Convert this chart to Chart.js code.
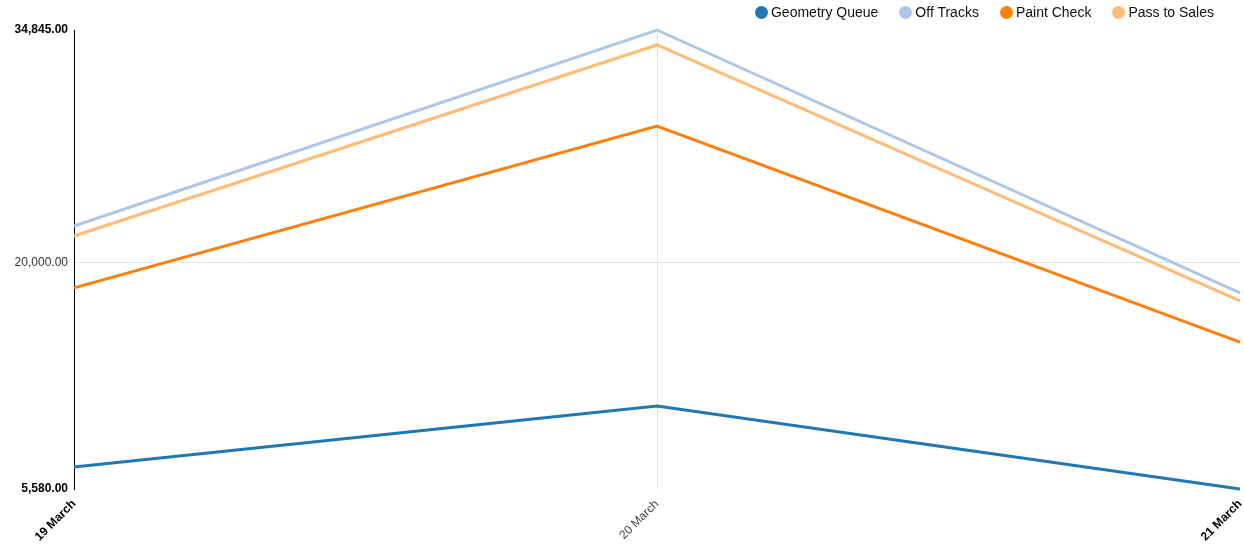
<!DOCTYPE html>
<html lang="en">
<head>
    <meta charset="UTF-8">
    <title>Line chart</title>
    <script src="https://cdn.jsdelivr.net/npm/chart.js"></script>
    <style>
        body {margin:0; background:#fff; font-family:Arial,'Liberation Sans',sans-serif;}
        .wrap {position:relative; width:1244px; height:550px;}
        .legend {position:absolute; top:3px; right:30px; display:flex; font-size:14px; color:#111;}
        .legend span {display:flex; align-items:center; margin-left:21px; line-height:18px;}
        .legend i {display:inline-block; width:13px; height:13px; border-radius:50%; margin-right:3px;}
    </style>
</head>
<body>
    <div class="wrap">
        <canvas id="chart" width="1244" height="550"></canvas>
        <div class="legend" id="legend"></div>
    </div>
    <script>
    const categories = ['19 March', '20 March', '21 March'];
    const seriesNames = ['Geometry Queue', 'Off Tracks', 'Paint Check', 'Pass to Sales'];
    const geometryQueue = [6980, 10870, 5580];
    const offTracks = [22350, 34845, 18080];
    const paintCheck = [18400, 28720, 14950];
    const passToSales = [21710, 33890, 17570];
    const yTicks = [5580, 20000, 34845];
    const colors = ['#1f77b4', '#aec7e8', '#ff7f0e', '#ffbb78'];

    const values = [geometryQueue, offTracks, paintCheck, passToSales];

    document.getElementById('legend').innerHTML = seriesNames.map((n, i) =>
        `<span><i style="background:${colors[i]}"></i>${n}</span>`).join('');

    const fmt = v => v.toLocaleString('en-US', {minimumFractionDigits: 2, maximumFractionDigits: 2});

    new Chart(document.getElementById('chart'), {
        type: 'line',
        data: {
            labels: categories,
            datasets: seriesNames.map((n, i) => ({
                label: n,
                data: values[i],
                borderColor: colors[i],
                backgroundColor: colors[i],
                borderWidth: 3,
                pointRadius: 0,
                tension: 0,
                clip: false,
                order: 4 - i
            }))
        },
        options: {
            responsive: false,
            animation: false,
            layout: {padding: {top: 30, right: 4}},
            plugins: {legend: {display: false}, tooltip: {enabled: false}},
            scales: {
                x: {
                    offset: false,
                    grid: {color: c => c.index === 1 ? '#e5e5e5' : 'rgba(0,0,0,0)', drawTicks: false},
                    border: {display: false},
                    ticks: {
                        minRotation: 45, maxRotation: 45, padding: 8, autoSkip: false,
                        color: c => (c.index === 1 ? '#444' : '#000'),
                        font: c => ({family: 'Arial, "Liberation Sans"', size: 12, weight: c.index === 1 ? 'normal' : 'bold'})
                    },
                    afterFit: s => { s.height = 61; s.paddingLeft = 0; s.paddingRight = 0; }
                },
                y: {
                    min: yTicks[0],
                    max: yTicks[yTicks.length - 1],
                    afterBuildTicks: s => { s.ticks = yTicks.map(v => ({value: v})); },
                    grid: {color: c => c.tick && c.tick.value === 20000 ? '#e5e5e5' : 'rgba(0,0,0,0)', drawTicks: false},
                    border: {display: true, color: '#000', width: 1},
                    ticks: {
                        padding: 6,
                        callback: v => fmt(v),
                        color: c => (c.index === 1 ? '#333' : '#000'),
                        font: c => ({family: 'Arial, "Liberation Sans"', size: 12, weight: c.index === 1 ? 'normal' : 'bold'})
                    },
                    afterFit: s => { s.width = 74; s.paddingTop = 0; s.paddingBottom = 0; }
                }
            }
        }
    });
    </script>
</body>
</html>
